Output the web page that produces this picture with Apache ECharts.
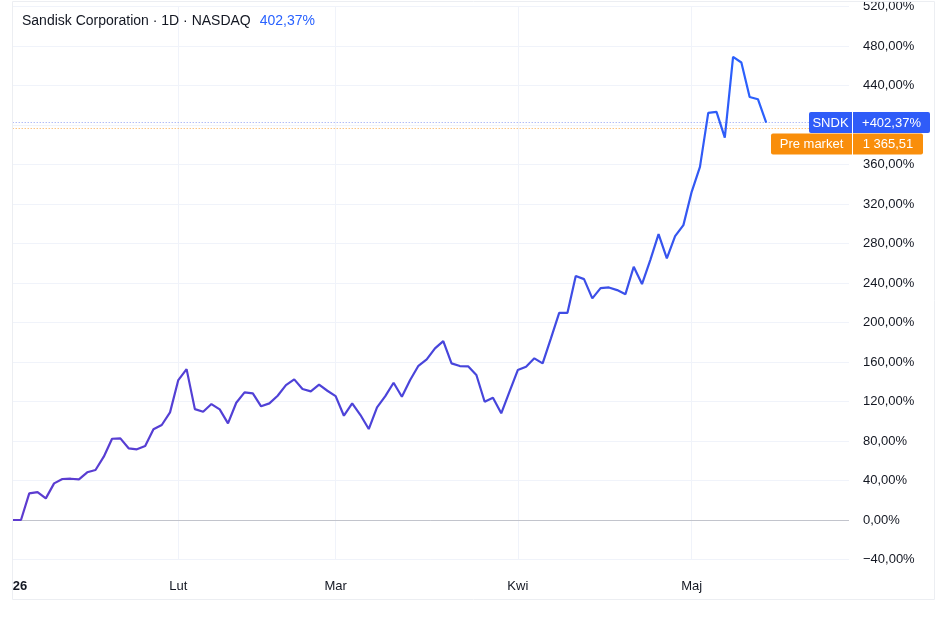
<!DOCTYPE html>
<html><head><meta charset="utf-8">
<script src="https://cdn.jsdelivr.net/npm/echarts@6/dist/echarts.min.js"></script>
<style>html,body{margin:0;padding:0;background:#fff}#c{width:948px;height:618px}</style>
</head><body><div id="c"></div>
<script>
// ---- data ----
const titleText = 'Sandisk Corporation · 1D · NASDAQ';
const titleValue = '402,37%';
const monthLabels = ['26', 'Lut', 'Mar', 'Kwi', 'Maj'];
const janDays = [2,5,6,7,8,9,12,13,14,15,16,20,21,22,23,26,27,28,29,30];
const febDays = [2,3,4,5,6,9,10,11,12,13,17,18,19,20,23,24,25,26,27];
const marDays = [2,3,4,5,6,9,10,11,12,13,16,17,18,19,20,23,24,25,26,27,30,31];
const aprDays = [1,2,6,7,8,9,10,13,14,15,16,17,20,21,22,23,24,27,28,29,30];
const mayDays = [1,4,5,6,7,8,11,12,13,14];
const pctChange = [
  0, 0, 27.0, 28.3, 21.9, 37.1, 41.5, 41.8, 41.2, 48.3,
  50.6, 64.1, 82.3, 82.7, 72.6, 71.6, 74.9, 91.8, 96.2, 109.0,
  141.7, 152.8, 112.3, 109.6, 117.4, 112.0, 97.9, 118.7, 129.3, 128.2,
  115.1, 118.1, 125.8, 136.6, 142.4, 132.6, 130.3, 137.0, 130.9, 125.5,
  105.6, 118.1, 106.3, 92.1, 114.1, 125.5, 139.0, 124.8, 141.7, 156.2,
  162.6, 173.8, 181.2, 158.6, 155.9, 155.6, 146.8, 119.7, 123.8, 108.0,
  129.9, 151.8, 155.2, 163.7, 158.6, 184.0, 209.8, 209.8, 247.0, 243.9,
  224.4, 234.8, 235.5, 232.8, 228.7, 256.4, 238.9, 263.2, 289.5, 264.9,
  287.4, 298.6, 332.3, 357.6, 412.2, 413.3, 387.3, 469.0, 463.3, 428.4,
  426.1, 402.37
];
const lastPct = 402.37;
const lastPctLabel = '+402,37%';
const symbolLabel = 'SNDK';
const preMarketPct = 397.1;
const preMarketLabel = 'Pre market';
const preMarketPrice = '1 365,51';
const yMin = -40, yMax = 520, yStep = 40;
const padSlots = 10;

// ---- build categories ----
const months = [janDays, febDays, marDays, aprDays, mayDays];
const categories = [];
const monthStart = {};
months.forEach((days, m) => {
  days.forEach((d, k) => {
    if (k === 0) monthStart[categories.length] = m;
    categories.push('2026-' + String(m + 1).padStart(2, '0') + '-' + String(d).padStart(2, '0'));
  });
});
for (let i = 0; i < padSlots; i++) categories.push('pad' + i);

const FONT = '"Liberation Sans", Arial, sans-serif';
const fmtPct = v => (v < 0 ? '\u2212' : '') + Math.abs(v).toFixed(2).replace('.', ',') + '%';

const chart = echarts.init(document.getElementById('c'), null, {renderer: 'canvas'});
chart.setOption({
  animation: false,
  backgroundColor: '#ffffff',
  textStyle: {fontFamily: FONT},
  title: {
    left: 17, top: 9,
    text: '{a|' + titleText + '}{b|' + titleValue + '}',
    textStyle: {
      fontWeight: 'normal',
      rich: {
        a: {fontSize: 14, color: '#131722', fontFamily: FONT, fontWeight: 'normal'},
        b: {fontSize: 14, color: '#2962ff', fontFamily: FONT, fontWeight: 'normal', padding: [0, 0, 0, 9]}
      }
    }
  },
  grid: {left: 12.7, right: 99, top: 6.2, bottom: 58.5, containLabel: false},
  xAxis: {
    type: 'category',
    data: categories,
    boundaryGap: false,
    axisLine: {show: false},
    axisTick: {show: false},
    splitLine: {
      show: true,
      interval: (idx) => monthStart[idx] !== undefined,
      lineStyle: {color: '#f0f3fa', width: 1}
    },
    axisLabel: {
      interval: (idx) => monthStart[idx] !== undefined,
      margin: 20,
      fontSize: 13,
      color: '#131722',
      fontFamily: FONT,
      alignMinLabel: 'left',
      formatter: (val, idx) => {
        const m = monthStart[idx];
        if (m === undefined) return '';
        return m === 0 ? '{y|' + monthLabels[0] + '}' : monthLabels[m];
      },
      rich: {y: {fontWeight: 'bold', fontSize: 13, color: '#131722', fontFamily: FONT}}
    }
  },
  yAxis: {
    type: 'value',
    position: 'right',
    min: yMin, max: yMax, interval: yStep,
    axisLine: {show: false},
    axisTick: {show: false},
    splitLine: {lineStyle: {color: '#f0f3fa', width: 1}},
    axisLabel: {
      margin: 14, align: 'left', fontSize: 13, color: '#131722', fontFamily: FONT,
      formatter: v => fmtPct(v)
    }
  },
  series: [{
    type: 'line',
    data: pctChange,
    showSymbol: false,
    symbol: 'none',
    smooth: false,
    lineStyle: {
      width: 2.2,
      color: new echarts.graphic.LinearGradient(0, 1, 1, 0, [
        {offset: 0, color: '#5e3bcf'},
        {offset: 0.55, color: '#4646dc'},
        {offset: 1, color: '#2962ff'}
      ])
    },
    emphasis: {disabled: true},
    markLine: {
      silent: true,
      symbol: 'none',
      animation: false,
      label: {show: false},
      emphasis: {disabled: true},
      data: [
        {yAxis: 0, lineStyle: {color: '#c2c4cc', type: 'solid', width: 1}},
        {yAxis: lastPct, lineStyle: {color: '#8f9ff5', type: [1, 2], width: 1}},
        {yAxis: preMarketPct, lineStyle: {color: '#f9a94a', type: [1, 2], width: 1}}
      ]
    },
    z: 5
  }]
});

// ---- overlay: frame and price-scale labels ----
const yLast = chart.convertToPixel({yAxisIndex: 0}, lastPct);
const scaleX = 853;
const boxH = 21;
const topA = Math.round(yLast - boxH / 2);
const topB = topA + boxH + 0.5;
const lblFont = '13px ' + FONT;
function box(x, y, w, fill, r, txt) {
  return [
    {type: 'rect', z: 100, shape: {x: x, y: y, width: w, height: boxH, r: r}, style: {fill: fill}},
    {type: 'text', z: 101, style: {x: x + w / 2, y: y + boxH / 2 + 0.5, text: txt, fill: '#ffffff', font: lblFont, align: 'center', verticalAlign: 'middle'}}
  ];
}
const g = [
  {type: 'rect', z: 90, shape: {x: 12.5, y: 1.5, width: 922, height: 598}, style: {fill: 'none', stroke: '#eceef2', lineWidth: 1}}
].concat(
  box(scaleX - 44, topA, 43, '#2f5cf8', [2, 0, 0, 2], symbolLabel),
  box(scaleX, topA, 77, '#2f5cf8', [0, 2, 2, 0], lastPctLabel),
  box(scaleX - 82, topB, 81, '#f98e0b', [2, 0, 0, 2], preMarketLabel),
  box(scaleX, topB, 70, '#f98e0b', [0, 2, 2, 0], preMarketPrice)
);
chart.setOption({graphic: g});
</script>
</body></html>
